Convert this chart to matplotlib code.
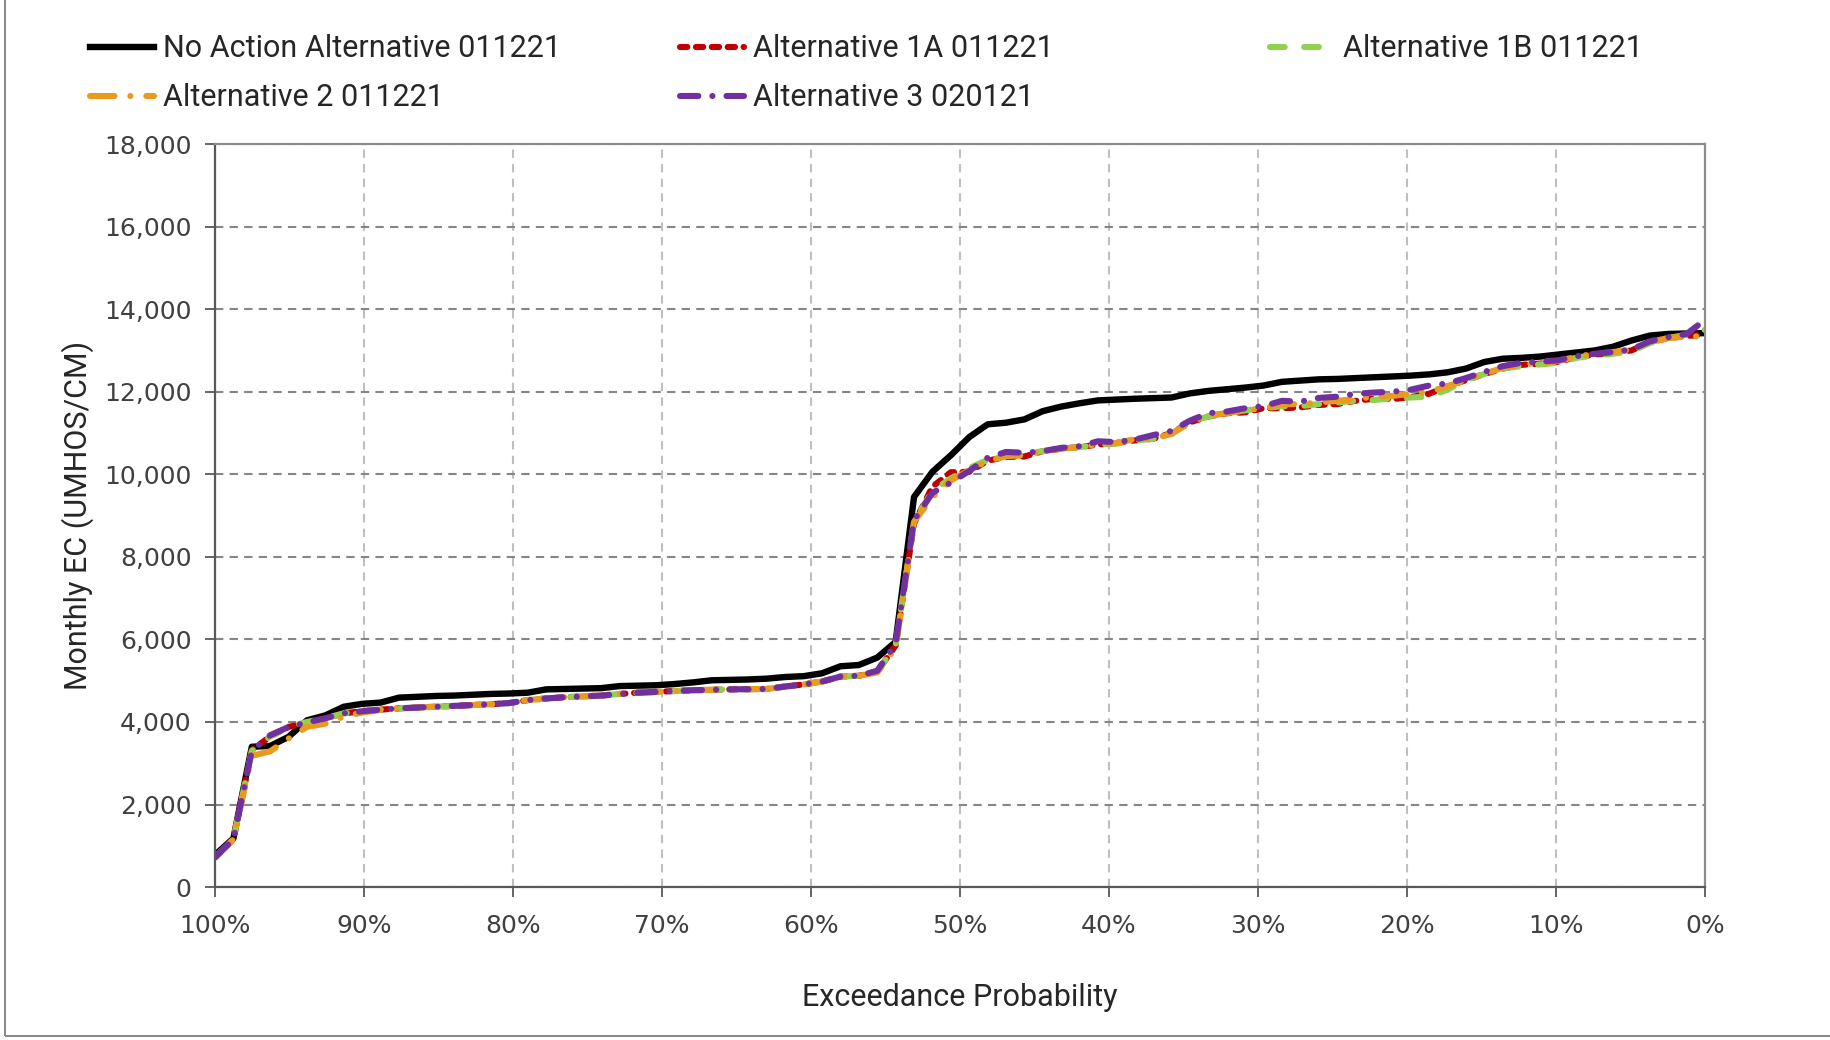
import numpy as np
import matplotlib
matplotlib.use("Agg")
import matplotlib.pyplot as plt
from matplotlib.patches import Rectangle
from matplotlib.ticker import FuncFormatter, MultipleLocator

# Monthly EC exceedance curves, 82 sorted values per alternative
n_points = 82
exceedance = np.linspace(100, 0, n_points)

no_action = [780, 1180, 3400, 3420, 3640, 4040, 4160, 4370, 4440, 4470,
             4590, 4610, 4630, 4640, 4660, 4680, 4690, 4710, 4790, 4800,
             4810, 4820, 4870, 4880, 4890, 4920, 4960, 5010, 5020, 5030,
             5050, 5090, 5110, 5180, 5350, 5380, 5560, 5940, 9450, 10060,
             10460, 10900, 11210, 11250, 11330, 11530, 11640, 11720, 11790, 11810,
             11830, 11845, 11860, 11960, 12020, 12060, 12100, 12150, 12240, 12270,
             12300, 12310, 12330, 12350, 12370, 12390, 12420, 12470, 12560, 12720,
             12800, 12820, 12850, 12900, 12950, 13000, 13090, 13240, 13360, 13400,
             13410, 13420]

alt_1a = [720, 1160, 3320, 3650, 3880, 3990, 4090, 4210, 4260, 4300,
          4330, 4350, 4370, 4390, 4410, 4430, 4460, 4530, 4570, 4600,
          4620, 4640, 4680, 4710, 4730, 4750, 4770, 4780, 4790, 4795,
          4800, 4860, 4910, 4980, 5100, 5120, 5220, 5850, 8810, 9700,
          10050, 10060, 10330, 10420, 10430, 10560, 10620, 10660, 10720, 10760,
          10820, 10860, 11000, 11260, 11400, 11480, 11500, 11600, 11600, 11620,
          11680, 11700, 11780, 11830, 11820, 11870, 11950, 12130, 12280, 12430,
          12560, 12650, 12680, 12720, 12840, 12900, 12940, 13000, 13200, 13300,
          13350, 13380]

alt_1b = [720, 1160, 3300, 3650, 3880, 4000, 4090, 4210, 4260, 4300,
          4330, 4350, 4370, 4390, 4410, 4430, 4460, 4530, 4570, 4600,
          4620, 4640, 4680, 4710, 4730, 4750, 4770, 4780, 4790, 4795,
          4800, 4860, 4910, 4980, 5100, 5120, 5220, 5850, 8850, 9600,
          9900, 10150, 10350, 10540, 10500, 10560, 10620, 10660, 10720, 10740,
          10820, 10860, 10980, 11260, 11400, 11480, 11550, 11600, 11650, 11650,
          11700, 11740, 11780, 11800, 11840, 11860, 11880, 12050, 12280, 12430,
          12560, 12620, 12660, 12700, 12820, 12880, 12920, 12980, 13180, 13300,
          13380, 13500]

alt_2 = [720, 1160, 3180, 3290, 3600, 3880, 3960, 4130, 4230, 4290,
         4330, 4350, 4370, 4390, 4410, 4430, 4460, 4530, 4570, 4600,
         4620, 4640, 4680, 4710, 4730, 4750, 4770, 4780, 4790, 4795,
         4800, 4860, 4910, 4980, 5100, 5120, 5200, 5800, 8850, 9450,
         9850, 10100, 10320, 10440, 10460, 10560, 10620, 10660, 10720, 10760,
         10850, 10860, 10980, 11260, 11430, 11480, 11550, 11600, 11700, 11700,
         11740, 11780, 11820, 11880, 11900, 11950, 12000, 12130, 12280, 12430,
         12580, 12650, 12700, 12740, 12850, 12920, 12960, 13020, 13200, 13300,
         13340, 13340]

alt_3 = [720, 1160, 3300, 3680, 3880, 3990, 4090, 4210, 4260, 4300,
         4330, 4350, 4370, 4390, 4410, 4430, 4460, 4530, 4570, 4600,
         4620, 4640, 4680, 4710, 4730, 4750, 4770, 4780, 4790, 4795,
         4800, 4860, 4910, 4980, 5100, 5120, 5240, 5900, 8890, 9550,
         9800, 10080, 10400, 10540, 10520, 10560, 10640, 10680, 10800, 10780,
         10840, 10950, 11050, 11300, 11480, 11520, 11600, 11650, 11780, 11760,
         11850, 11880, 11950, 11980, 12000, 12050, 12150, 12200, 12330, 12480,
         12620, 12700, 12730, 12760, 12860, 12920, 12960, 13020, 13220, 13320,
         13400, 13740]

labels = ["No Action Alternative 011221", "Alternative 1A 011221", "Alternative 1B 011221",
          "Alternative 2 011221", "Alternative 3 020121"]
colors = ["#000000", "#C00000", "#92D050", "#E99B1F", "#7030A0"]

label_font = "Roboto"
fig = plt.figure(figsize=(18.3, 10.4), dpi=100)
ax = fig.add_axes([0.1175, 0.147, 0.8142, 0.7145])

lw = 4.4
h_na, = ax.plot(exceedance, no_action, color=colors[0], lw=4.6, solid_joinstyle="round")
h_1a, = ax.plot(exceedance, alt_1a, color=colors[1], lw=lw, dashes=(1.2, 1.4),
                dash_capstyle="round", dash_joinstyle="round")
h_1b, = ax.plot(exceedance, alt_1b, color=colors[2], lw=lw, dashes=(2.4, 3.2),
                dash_capstyle="round", dash_joinstyle="round")
h_2, = ax.plot(exceedance, alt_2, color=colors[3], lw=lw, dashes=(4, 2.6, 0.01, 2.6),
               dash_capstyle="round", dash_joinstyle="round")
h_3, = ax.plot(exceedance, alt_3, color=colors[4], lw=lw, dashes=(3, 2.3, 0.01, 2.3),
               dash_capstyle="round", dash_joinstyle="round")

ax.set_xlim(100, 0)
ax.set_ylim(0, 18000)
ax.xaxis.set_major_locator(MultipleLocator(10))
ax.yaxis.set_major_locator(MultipleLocator(2000))
ax.xaxis.set_major_formatter(FuncFormatter(lambda v, p: "%d%%" % round(v)))
ax.yaxis.set_major_formatter(FuncFormatter(lambda v, p: "{:,.0f}".format(v)))

ax.grid(axis="y", color="#868686", ls=(0, (4, 3)), lw=1.5)
ax.grid(axis="x", color="#bfbfbf", ls=(0, (4, 3)), lw=1.5)
ax.set_axisbelow(True)

for s in ["left", "bottom"]:
    ax.spines[s].set_color("#595959")
    ax.spines[s].set_linewidth(1.6)
for s in ["top", "right"]:
    ax.spines[s].set_color("#8c8c8c")
    ax.spines[s].set_linewidth(1.6)

ax.tick_params(axis="both", direction="out", length=7, width=1.3, color="#595959",
               labelsize=18, labelcolor="#404040", pad=10)
ax.tick_params(axis="x", pad=12)

ax.set_ylabel("Monthly EC (UMHOS/CM)", fontsize=22, family=label_font, color="#262626",
              labelpad=7)
ax.set_xlabel("Exceedance Probability", fontsize=22, family=label_font, color="#262626",
              labelpad=33)

leg_kw = dict(loc="upper left", frameon=False, handlelength=2.1,
              handletextpad=0.3, labelspacing=0.66, borderpad=0, borderaxespad=0,
              prop={"family": label_font, "size": 22})
leg1 = fig.legend([h_na, h_2], [labels[0], labels[3]], bbox_to_anchor=(0.049, 0.967), **leg_kw)
leg2 = fig.legend([h_1a, h_3], [labels[1], labels[4]], bbox_to_anchor=(0.3715, 0.967), **leg_kw)
leg3 = fig.legend([h_1b], [labels[2]], bbox_to_anchor=(0.694, 0.967), **leg_kw)
for lg in (leg1, leg2, leg3):
    for t in lg.get_texts():
        t.set_color("#262626")

# chart area border
fig.patches.append(Rectangle((0.003, 0.004), 1.0, 1.0, transform=fig.transFigure,
                             fill=False, edgecolor="#8c8c8c", lw=1.5))

fig.savefig("out.png", dpi=100)
